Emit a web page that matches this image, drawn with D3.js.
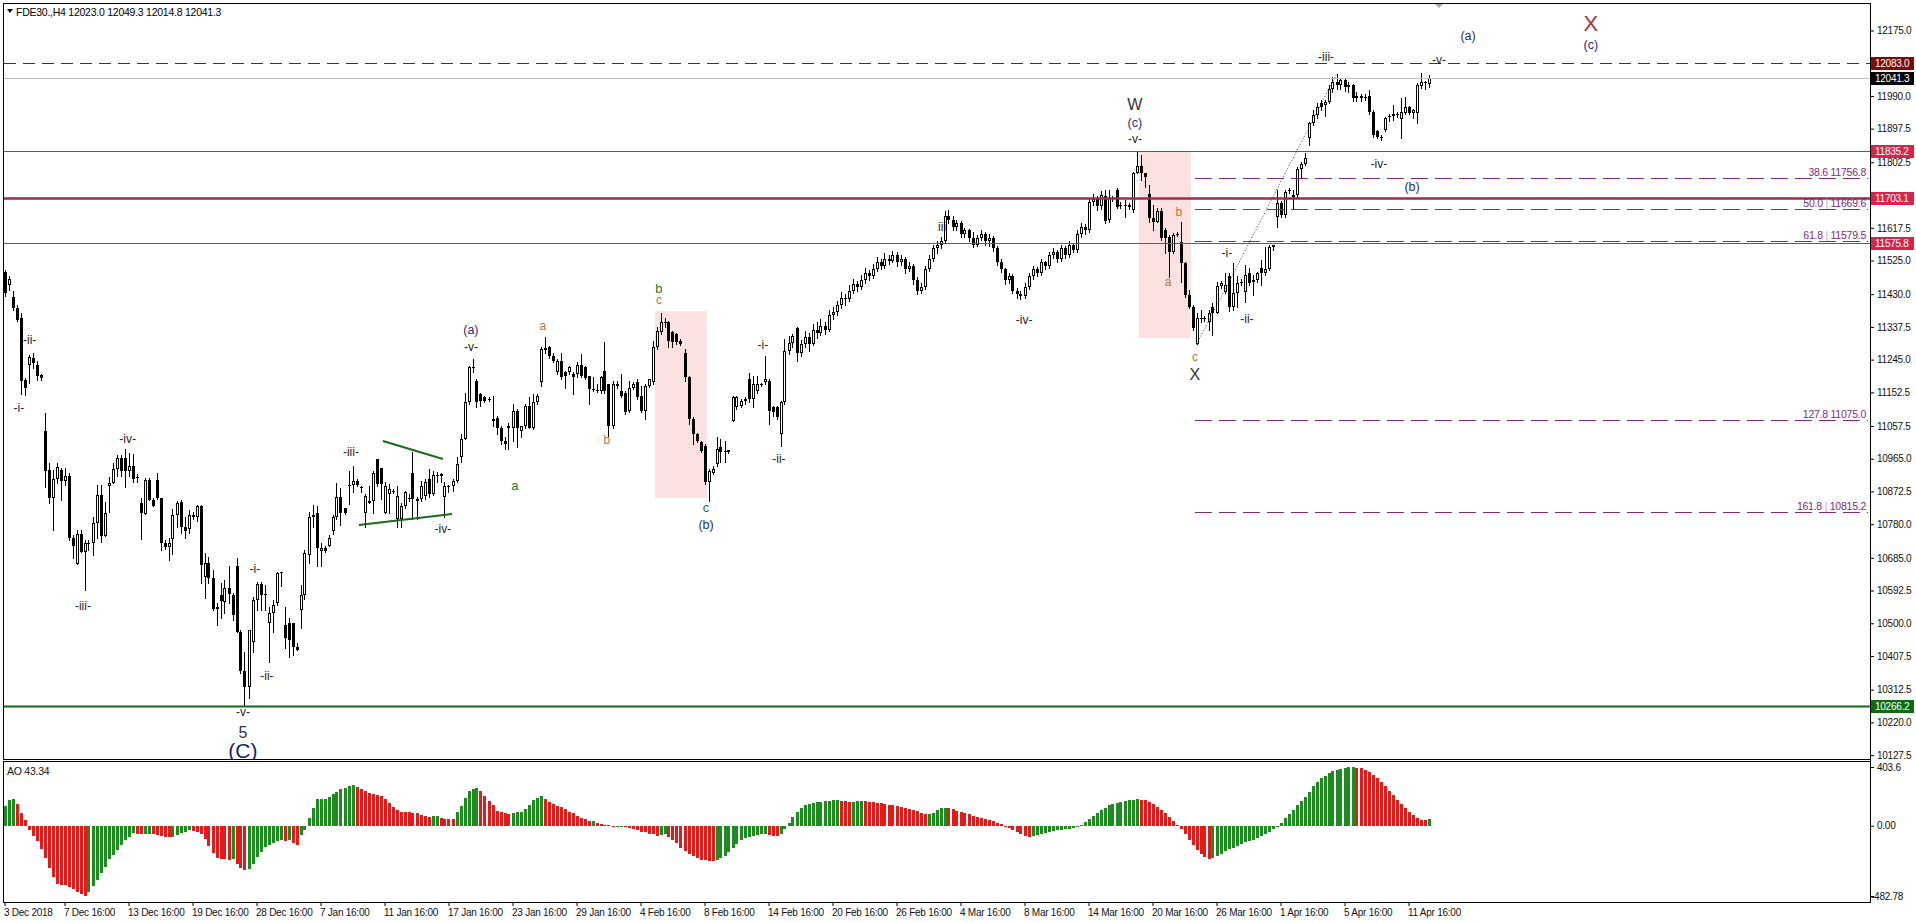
<!DOCTYPE html>
<html>
<head>
<meta charset="utf-8">
<script src="https://cdn.jsdelivr.net/npm/d3@7"></script>
<style>
body{margin:0;background:#fff}
svg{display:block}
text{font-family:'Liberation Sans',Arial,sans-serif}
.ax text,.tag,.small{letter-spacing:-0.25px}
</style>
</head>
<body>
<svg id="chart" width="1916" height="923"></svg>
<script>
// candles, one row per H4 bar: [open, high, low, close]
const ohlc = [
[11494,11498,11425,11433],[11456,11480,11442,11472],[11423,11440,11385,11390],[11390,11400,11355,11357],[11362,11378,11148,11186],
[11188,11192,11145,11164],[11230,11258,11178,11252],[11250,11265,11220,11235],[11230,11240,11188,11199],[11202,11204,11188,11192],
[11042,11093,10884,10929],[10933,10952,10839,10853],[10853,10933,10764,10907],[10907,10952,10896,10943],[10933,10938,10848,10903],
[10903,10938,10890,10915],[10915,10924,10735,10740],[10740,10750,10684,10717],[10668,10764,10668,10752],[10752,10764,10702,10702],
[10702,10735,10594,10726],[10726,10735,10707,10724],[10726,10801,10693,10784],[10784,10891,10740,10863],[10863,10891,10731,10747],
[10747,10844,10747,10813],[10888,10914,10815,10895],[10895,10952,10895,10935],[10935,10976,10915,10966],[10966,10976,10915,10930],
[10966,10992,10886,10931],[10931,10980,10915,10945],[10945,10978,10898,10907],[10912,10922,10898,10910],[10839,10853,10737,10811],
[10809,10910,10809,10905],[10905,10910,10847,10847],[10847,10853,10830,10832],[10905,10926,10850,10853],[10853,10853,10707,10726],
[10726,10735,10709,10716],[10716,10740,10679,10726],[10737,10822,10696,10806],[10806,10846,10773,10839],[10844,10848,10754,10771],
[10771,10801,10740,10762],[10766,10820,10754,10806],[10806,10815,10794,10801],[10801,10834,10790,10830],[10830,10834,10613,10665],
[10632,10698,10571,10670],[10670,10688,10613,10627],[10627,10651,10537,10540],[10545,10556,10495,10540],[10580,10613,10514,10564],
[10561,10622,10528,10599],[10599,10662,10556,10583],[10580,10585,10509,10524],[10662,10684,10476,10476],[10476,10481,10359,10366],
[10366,10420,10266,10319],[10319,10481,10288,10481],[10448,10575,10420,10566],[10566,10618,10538,10611],[10611,10618,10538,10580],
[10580,10608,10538,10582],[10500,10547,10392,10528],[10528,10566,10476,10552],[10556,10646,10552,10643],[10643,10646,10604,10645],
[10495,10547,10429,10457],[10500,10514,10404,10453],[10500,10500,10410,10434],[10434,10443,10424,10425],[10538,10608,10486,10580],
[10580,10707,10570,10698],[10693,10815,10670,10801],[10801,10834,10773,10806],[10813,10832,10663,10714],[10705,10728,10663,10714],
[10714,10719,10700,10705],[10719,10749,10719,10740],[10761,10806,10752,10799],[10799,10896,10794,10856],[10856,10881,10777,10813],
[10827,10827,10808,10813],[10888,10931,10837,10891],[10890,10945,10870,10903],[10903,10907,10888,10890],[10885,10888,10870,10884],
[10813,10865,10771,10860],[10846,10888,10841,10841],[10846,10931,10813,10926],[10964,10964,10889,10893],[10938,10940,10851,10893],
[10813,10898,10813,10889],[10865,10893,10813,10879],[10874,10879,10868,10875],[10794,10889,10771,10860],[10794,10841,10771,10832],
[10832,10874,10827,10870],[10855,10865,10846,10851],[10926,10983,10794,10851],[10851,10856,10794,10846],[10851,10903,10846,10889],
[10860,10907,10851,10898],[10907,10936,10856,10865],[10865,10931,10862,10919],[10917,10928,10898,10918],[10917,10926,10898,10922],
[10858,10898,10799,10889],[10889,10891,10870,10885],[10889,10907,10875,10903],[10903,10969,10898,10950],[10969,11035,10955,11020],
[11020,11152,11020,11124],[11124,11228,11119,11223],[11223,11247,11209,11225],[11185,11190,11110,11124],[11148,11152,11115,11129],
[11138,11143,11124,11129],[11133,11138,11129,11134],[11077,11143,11058,11072],[11079,11086,11035,11051],[11053,11058,11006,11016],
[11016,11025,10992,11006],[11053,11067,10992,11058],[11053,11119,11016,11101],[11101,11105,10997,11053],[11044,11058,11025,11058],
[11058,11119,11053,11115],[11115,11138,11053,11053],[11053,11148,11050,11124],[11124,11148,11119,11143],[11181,11280,11171,11275],
[11277,11308,11265,11273],[11280,11284,11251,11256],[11256,11265,11237,11242],[11211,11247,11204,11242],[11242,11265,11190,11195],
[11209,11214,11166,11200],[11209,11228,11204,11223],[11204,11209,11148,11196],[11204,11237,11195,11230],[11230,11261,11195,11200],
[11223,11228,11190,11192],[11200,11200,11119,11162],[11162,11195,11157,11163],[11160,11177,11154,11158],[11157,11200,11152,11195],
[11214,11296,11152,11157],[11176,11176,11030,11058],[11058,11185,11053,11176],[11176,11185,11166,11171],[11157,11204,11138,11143],
[11152,11157,11091,11096],[11101,11185,11096,11166],[11166,11181,11162,11176],[11181,11190,11133,11138],[11143,11171,11096,11101],
[11101,11176,11077,11171],[11171,11190,11167,11190],[11181,11298,11176,11280],[11280,11336,11275,11327],[11322,11378,11317,11350],
[11350,11364,11336,11351],[11350,11355,11280,11298],[11322,11327,11280,11294],[11317,11320,11290,11294],[11298,11302,11285,11289],
[11265,11275,11185,11195],[11195,11200,11063,11077],[11077,11082,11006,11035],[11035,11039,11011,11016],[11011,11016,10983,10988],
[11002,11006,10893,10898],[10898,10936,10846,10931],[10926,10945,10922,10936],[10950,11025,10945,10992],[10997,11020,10955,10983],
[10986,11016,10955,10983],[10985,10991,10982,10990],[11072,11143,11072,11138],[11110,11143,11105,11138],[11115,11133,11110,11129],
[11129,11138,11120,11134],[11190,11207,11124,11133],[11133,11199,11110,11176],[11157,11199,11152,11176],[11175,11180,11170,11176],
[11181,11256,11176,11190],[11185,11190,11063,11101],[11110,11115,11087,11096],[11110,11115,11077,11082],[11035,11129,11002,11124],
[11124,11303,11119,11270],[11270,11313,11260,11292],[11292,11317,11280,11313],[11333,11336,11242,11265],[11265,11300,11255,11290],
[11290,11325,11280,11310],[11310,11320,11270,11290],[11290,11345,11285,11330],[11330,11350,11305,11320],[11320,11360,11315,11340],
[11340,11352,11318,11330],[11330,11385,11325,11370],[11370,11395,11360,11380],[11380,11410,11372,11400],[11400,11435,11390,11420],
[11420,11430,11400,11415],[11415,11455,11410,11440],[11440,11472,11432,11460],[11460,11468,11438,11450],[11450,11485,11445,11470],
[11470,11505,11462,11490],[11490,11498,11470,11480],[11480,11515,11475,11500],[11500,11535,11495,11520],[11520,11528,11500,11510],
[11510,11545,11505,11530],[11530,11540,11515,11525],[11525,11552,11520,11540],[11540,11548,11510,11520],[11520,11540,11512,11530],
[11530,11535,11490,11500],[11500,11520,11495,11510],[11510,11515,11460,11470],[11470,11478,11430,11440],[11440,11462,11432,11450],
[11450,11510,11445,11500],[11500,11540,11495,11530],[11530,11570,11525,11560],[11560,11580,11545,11570],[11570,11592,11560,11580],
[11580,11665,11575,11650],[11650,11668,11630,11640],[11640,11650,11612,11620],[11620,11640,11610,11630],[11630,11638,11592,11600],
[11600,11618,11592,11610],[11610,11615,11580,11590],[11590,11605,11562,11570],[11570,11598,11565,11590],[11590,11612,11582,11600],
[11600,11605,11570,11580],[11580,11600,11565,11590],[11590,11595,11552,11560],[11560,11565,11512,11520],[11520,11528,11492,11500],
[11500,11505,11460,11470],[11470,11490,11462,11480],[11480,11486,11432,11440],[11440,11448,11420,11430],[11430,11438,11416,11425],
[11425,11462,11420,11450],[11450,11490,11445,11480],[11480,11510,11472,11500],[11500,11506,11482,11490],[11490,11530,11485,11520],
[11520,11525,11500,11510],[11510,11548,11505,11540],[11540,11560,11532,11550],[11550,11555,11522,11530],[11530,11570,11525,11560],
[11560,11566,11532,11540],[11540,11580,11535,11570],[11570,11575,11548,11555],[11555,11610,11550,11600],[11600,11630,11592,11620],
[11620,11628,11600,11610],[11610,11700,11605,11690],[11690,11712,11682,11700],[11700,11706,11668,11680],[11680,11722,11672,11710],
[11707,11724,11630,11638],[11640,11724,11635,11701],[11701,11708,11694,11702],[11724,11729,11673,11677],[11682,11690,11673,11683],
[11682,11696,11649,11683],[11683,11688,11670,11676],[11668,11776,11663,11773],[11773,11835,11771,11792],[11792,11823,11753,11771],
[11771,11773,11733,11760],[11713,11739,11635,11644],[11644,11682,11611,11635],[11635,11673,11635,11666],[11666,11673,11583,11588],
[11611,11616,11545,11588],[11592,11597,11479,11550],[11550,11602,11545,11597],[11600,11607,11593,11601],[11578,11635,11465,11517],
[11517,11522,11423,11428],[11428,11442,11390,11395],[11395,11399,11329,11334],[11290,11376,11287.8,11362],[11362,11385,11350,11363],
[11362,11368,11355,11360],[11352,11385,11330,11378],[11395,11404,11315,11378],[11378,11463,11376,11453],[11453,11466,11447,11462],
[11437,11489,11433,11456],[11481,11489,11381,11395],[11395,11517,11385,11432],[11432,11480,11395,11462],[11462,11472,11455,11463],
[11437,11512,11409,11484],[11489,11503,11455,11461],[11463,11484,11428,11470],[11470,11494,11465,11489],[11503,11526,11456,11491],
[11491,11564,11484,11500],[11500,11569,11498,11564],[11564,11570,11555,11570],[11649,11724,11621,11687],[11687,11692,11649,11654],
[11654,11724,11649,11720],[11722,11730,11716,11724],[11704,11724,11670,11710],[11710,11790,11705,11783],[11783,11804,11757,11798],
[11798,11830,11795,11814],[11870,11917,11852,11913],[11913,11950,11908,11936],[11936,11969,11927,11960],[11969,11979,11950,11960],
[11965,11979,11932,11974],[11974,12020,11970,12010],[12010,12045,12000,12030],[12030,12051.4,12010,12020],[12020,12040,12010,12035],
[12035,12040,12005,12015],[12015,12030,12000,12020],[12020,12025,11975,11985],[11985,12000,11975,11990],[11990,11995,11975,11985],
[11985,11995,11978,11988],[11990,12007,11940,11945],[11945,11950,11875,11880],[11890,11895,11870,11875],[11875,11880,11866,11872],
[11894,11930,11890,11927],[11930,11940,11918,11932],[11932,11965,11922,11940],[11940,11945,11930,11937],[11925,11985,11870,11944],
[11941,11988,11938,11960],[11960,11962,11938,11941],[11941,11952,11928,11950],[11941,12026,11913,12021],[12018,12056,12012,12030],
[12030,12033,12010,12026],[12023.0,12049.3,12014.8,12041.3]
];

// Awesome Oscillator, one value per bar
const ao = [
139,176,187,146,88,37,-28,-69,-102,-162,
-219,-293,-351,-397,-404,-409,-420,-432,-455,-470,
-482.78,-455,-416,-374,-328,-282,-229,-201,-166,-132,
-97,-74,-51,-58,-60,-58,-57,-60,-66,-72,
-78,-80,-76,-62,-50,-40,-32,-36,-45,-60,
-90,-140,-190,-225,-229,-230,-232,-226,-260,-290,
-305,-295,-260,-215,-178,-148,-132,-120,-102,-97,
-108,-98,-120,-132,-62,-32,52,122,185,186,
187,198,215,231,249,261,270,277,268,250,
238,226,219,210,201,185,157,129,111,93,
92,91,90,85,74,65,58,65,66,55,
48,46,45,92,134,190,236,255,256,238,
203,173,143,99,92,88,81,88,92,95,
115,145,175,192,203,185,166,148,138,129,
115,97,85,70,55,45,32,35,22,12,
8,2,-8,-5,-4,-12,-15,-20,-28,-40,
-45,-55,-60,-70,-65,-60,-75,-95,-120,-150,
-175,-195,-210,-225,-232,-236,-240,-242,-238,-225,
-205,-180,-150,-125,-100,-85,-75,-70,-62,-60,
-58,-62,-70,-72,-55,-20,20,60,95,120,
140,150,158,162,165,168,170,175,176,172,
168,165,166,170,172,168,164,160,158,155,
150,145,140,138,132,125,118,110,100,88,
80,82,90,108,122,125,120,112,102,95,
86,78,70,60,52,45,40,30,20,12,
0,-15,-30,-45,-60,-70,-75,-72,-65,-55,
-48,-40,-35,-30,-28,-25,-22,-15,-5,8,
25,45,65,90,110,125,140,150,158,165,
170,176,180,184,180,175,165,150,130,110,
85,60,30,5,-25,-60,-95,-130,-165,-195,
-215,-228,-225,-210,-195,-175,-160,-150,-140,-128,
-115,-105,-95,-85,-72,-58,-42,-25,-5,20,
50,80,110,140,170,200,235,270,300,325,
345,362,375,385,393,398,401,403.6,400,395,
385,370,352,330,300,270,240,210,180,150,
120,95,72,55,42,38,43.34
];

const priceTicks = [12175.0,11990.0,11897.5,11802.5,11617.5,11525.0,11430.0,11337.5,11245.0,11152.5,
  11057.5,10965.0,10872.5,10780.0,10685.0,10592.5,10500.0,10407.5,10312.5,10220.0,10127.5];
const aoTicks = [403.6, 0, -482.78];
const aoTickLabels = ["403.6", "0.00", "-482.78"];

const dateIdx = [0,15,31,47,63,79,95,111,127,143,159,175,191,207,223,239,255,271,287,303,319,335,351];
const dateLabels = ["3 Dec 2018","7 Dec 16:00","13 Dec 16:00","19 Dec 16:00","28 Dec 16:00","7 Jan 16:00",
  "11 Jan 16:00","17 Jan 16:00","23 Jan 16:00","29 Jan 16:00","4 Feb 16:00","8 Feb 16:00","14 Feb 16:00",
  "20 Feb 16:00","26 Feb 16:00","4 Mar 16:00","8 Mar 16:00","14 Mar 16:00","20 Mar 16:00","26 Mar 16:00",
  "1 Apr 16:00","5 Apr 16:00","11 Apr 16:00"];

// horizontal levels
const levels = [12083.0, 12041.3, 11835.2, 11703.1, 11575.8, 10266.2];

// fibonacci from X low to -iii- high
const fibStart = 297.6;
const fibPct = ["38.6","50.0","61.8","127.8","161.8"];
const fibVal = [11756.8, 11669.6, 11579.5, 11075.0, 10815.2];
const trendFrom = [298, 11287.8];
const trendTo = [333, 12051.4];

// shaded zones [fromBar, toBar, topPrice, bottomPrice]
const zones = [[162.6,175.6,11382,10854],[283.6,296.6,11835.2,11306]];

// triangle boundaries [bar, price, bar, price]
const triLines = [[94.6,11015,109.6,10964],[88.6,10778,111.9,10809]];

// wave marks [text, bar, price, degree]
const waves = [
["-ii-",6.3,11300,"sub"],["-i-",3.6,11108,"sub"],["-iv-",30.8,11021,"sub"],["-iii-",19.6,10549,"sub"],
["-i-",62.6,10653,"sub"],["-ii-",65.6,10351,"sub"],["-v-",59.6,10248,"sub"],["5",59.6,10190,"five"],["(C)",59.6,10140,"bigC"],
["-iii-",86.6,10984,"sub"],["-iv-",109.6,10766,"sub"],["(a)",116.6,11329,"int"],["-v-",116.6,11281,"sub"],
["a",134.6,11340,"ora"],["a",127.6,10888,"grn"],["b",150.6,11018,"ora"],["b",163.6,11447,"grn"],["c",163.6,11414,"ora"],
["c",175.4,10826,"grn"],["(b)",175.4,10778,"int"],["-i-",189.6,11286,"sub"],["-ii-",193.6,10964,"sub"],
["iii",234.4,11620,"sub"],["-iv-",254.9,11357,"sub"],
["W",282.6,11965,"prim"],["(c)",282.6,11914,"int"],["-v-",282.6,11868,"sub"],
["b",293.6,11662,"ora"],["a",290.9,11464,"ora"],["c",297.6,11252,"ora"],["X",297.6,11202,"prim"],
["-i-",305.6,11546,"sub"],["-ii-",310.6,11360,"sub"],["-iii-",330.4,12100,"sub"],["-iv-",343.6,11798,"sub"],
["(b)",351.9,11733,"int"],["-v-",358.6,12092,"sub"],["(a)",365.9,12160,"int"],["X",396.6,12196,"redX"],["(c)",396.6,12134,"int"]
];

const W = 1916, H = 923;
const right = 1870, mainTop = 3, mainBot = 759, aoTop = 761, aoBot = 902;

const x = d3.scaleLinear().domain([0, ohlc.length - 1]).range([4.5, 1428.5]);
const y = d3.scaleLinear().domain([10116.5, 12252.7]).range([mainBot, mainTop]);
const yAO = d3.scaleLinear().domain([-482.78, 403.6]).range([896, 767]);

const svg = d3.select("#chart");
svg.append("rect").attr("width", W).attr("height", H).attr("fill", "#fff");

const defs = svg.append("defs");
defs.append("clipPath").attr("id", "clipMain").append("rect")
  .attr("x", 4).attr("y", mainTop + 1).attr("width", right - 4).attr("height", mainBot - mainTop - 1);
defs.append("clipPath").attr("id", "clipAO").append("rect")
  .attr("x", 4).attr("y", aoTop + 1).attr("width", right - 4).attr("height", aoBot - aoTop - 1);

const main = svg.append("g").attr("clip-path", "url(#clipMain)");

// pink zones
main.selectAll("rect.zone").data(zones).join("rect").attr("class", "zone")
  .attr("x", d => x(d[0])).attr("width", d => x(d[1]) - x(d[0]))
  .attr("y", d => y(d[2])).attr("height", d => y(d[3]) - y(d[2]))
  .attr("fill", "#fce1e1");

// candles
const cg = main.append("g").attr("shape-rendering", "crispEdges");
cg.selectAll("g").data(ohlc).join("g").each(function(d, i) {
  const g = d3.select(this);
  const [o, h, l, c] = d;
  const cx = Math.round(x(i));
  g.append("line").attr("x1", cx + 0.5).attr("x2", cx + 0.5)
    .attr("y1", Math.round(y(h))).attr("y2", Math.round(y(l)) + 1).attr("stroke", "#000");
  const top = Math.round(y(Math.max(o, c))), bot = Math.round(y(Math.min(o, c)));
  if (bot - top < 2) {
    g.append("rect").attr("x", cx - 1).attr("y", top).attr("width", 3).attr("height", Math.max(1, bot - top)).attr("fill", "#000");
  } else if (c > o) {
    g.append("rect").attr("x", cx - 0.5).attr("y", top + 0.5).attr("width", 2).attr("height", bot - top - 1)
      .attr("fill", "#fff").attr("stroke", "#000");
  } else {
    g.append("rect").attr("x", cx - 1).attr("y", top).attr("width", 3).attr("height", bot - top).attr("fill", "#000");
  }
});

// horizontal lines
const lvlStroke = ["#7a1a1a", "#c0c0c0", "#a23a62", "#a3294a", "#a23a62", "#13691a"];
const lvlWidth = [1, 1, 1, 2.5, 1, 2];
const lvlDash = ["12,7", null, null, null, null, null];
main.selectAll("line.lvl").data(levels).join("line").attr("class", "lvl")
  .attr("x1", 4).attr("x2", right)
  .attr("y1", d => Math.round(y(d)) + 0.5).attr("y2", d => Math.round(y(d)) + 0.5)
  .attr("stroke", (d, i) => lvlStroke[i]).attr("stroke-width", (d, i) => lvlWidth[i])
  .attr("stroke-dasharray", (d, i) => lvlDash[i]);

// fibonacci lines
main.selectAll("line.fib").data(fibVal).join("line").attr("class", "fib")
  .attr("x1", x(fibStart)).attr("x2", right - 2)
  .attr("y1", d => Math.round(y(d)) + 0.5).attr("y2", d => Math.round(y(d)) + 0.5)
  .attr("stroke", "#7e2a7e").attr("stroke-dasharray", "17,7");
const fibText = main.selectAll("text.fib").data(fibVal).join("text").attr("class", "fib small")
  .attr("x", right - 4).attr("y", d => y(d) - 2)
  .attr("text-anchor", "end").attr("font-size", 10.5).attr("fill", "#7e2a7e");
fibText.append("tspan").text((d, i) => fibPct[i]);
fibText.append("tspan").attr("fill", "#caa6ca").text((d, i) => (i === 0 || i === 3) ? " " : " | ");
fibText.append("tspan").text(d => d.toFixed(1));

// trend line (dotted)
main.append("line")
  .attr("x1", x(trendFrom[0])).attr("y1", y(trendFrom[1]))
  .attr("x2", x(trendTo[0])).attr("y2", y(trendTo[1]))
  .attr("stroke", "#333").attr("stroke-dasharray", "1,2");

// triangle
main.selectAll("line.tri").data(triLines).join("line").attr("class", "tri")
  .attr("x1", d => x(d[0])).attr("y1", d => y(d[1]))
  .attr("x2", d => x(d[2])).attr("y2", d => y(d[3]))
  .attr("stroke", "#1d6b1d").attr("stroke-width", 2);

// wave labels
const waveStyle = {
  sub: {fill: "#1e1e1e", size: 12},
  int: {fill: "#2a2a72", size: 12.5},
  prim: {fill: "#333", size: 16},
  ora: {fill: "#b8763c", size: 12},
  grn: {fill: "#1d7a1d", size: 13},
  redX: {fill: "#a83232", size: 22},
  five: {fill: "#333", size: 16},
  bigC: {fill: "#22226a", size: 21}
};
main.selectAll("text.wave").data(waves).join("text").attr("class", "wave")
  .attr("x", d => x(d[1])).attr("y", d => y(d[2]))
  .attr("text-anchor", "middle").attr("dominant-baseline", "central")
  .attr("font-size", d => waveStyle[d[3]].size).attr("fill", d => waveStyle[d[3]].fill)
  .text(d => d[0]);

// shift marker
svg.append("path").attr("d", "M1434,3L1444,3L1439,8Z").attr("fill", "#a8a8a8");

// AO histogram
const aog = svg.append("g").attr("clip-path", "url(#clipAO)").attr("shape-rendering", "crispEdges");
aog.selectAll("rect").data(ao).join("rect")
  .attr("x", (d, i) => Math.round(x(i)) - 1).attr("width", 3)
  .attr("y", d => Math.round(yAO(Math.max(0, d))))
  .attr("height", d => Math.max(1, Math.abs(Math.round(yAO(d)) - Math.round(yAO(0)))))
  .attr("fill", (d, i) => (i === 0 || d > ao[i - 1]) ? "#1f8a1f" : "#e31a1a");

// panel frames
const frame = svg.append("g").attr("fill", "none").attr("stroke", "#000").attr("shape-rendering", "crispEdges");
frame.append("rect").attr("x", 3.5).attr("y", mainTop + 0.5).attr("width", right - 3).attr("height", mainBot - mainTop);
frame.append("rect").attr("x", 3.5).attr("y", aoTop + 0.5).attr("width", right - 3).attr("height", aoBot - aoTop);

// price axis
const yAxis = d3.axisRight(y).tickValues(priceTicks).tickFormat(d3.format(".1f")).tickSize(4).tickSizeOuter(0);
svg.append("g").attr("class", "ax").attr("transform", `translate(${right},0)`).call(yAxis)
  .call(g => g.select(".domain").remove())
  .call(g => g.selectAll("text").attr("font-size", 10).attr("font-family", null).attr("fill", "#111"));

// price tags
const tagFill = ["#7c0b0b", "#000", "#d5264a", "#d5264a", "#d5264a", "#0e6b12"];
const tags = svg.append("g");
tags.selectAll("rect").data(levels).join("rect")
  .attr("x", right + 1).attr("width", 43).attr("y", d => Math.round(y(d)) - 6).attr("height", 13)
  .attr("fill", (d, i) => tagFill[i]);
tags.selectAll("text").data(levels).join("text").attr("class", "tag")
  .attr("x", right + 5).attr("y", d => Math.round(y(d)) + 0.5).attr("dominant-baseline", "central")
  .attr("font-size", 10).attr("fill", "#fff").text(d => d.toFixed(1));

// AO axis
const aoAxis = d3.axisRight(yAO).tickValues(aoTicks).tickFormat((d, i) => aoTickLabels[i]).tickSize(4).tickSizeOuter(0);
svg.append("g").attr("class", "ax").attr("transform", `translate(${right},0)`).call(aoAxis)
  .call(g => g.select(".domain").remove())
  .call(g => g.selectAll("text").attr("font-size", 10).attr("font-family", null).attr("fill", "#111"))
  .call(g => g.selectAll(".tick").filter((d, i) => i === 2).select("text").attr("x", 1));

// axis vertical line
svg.append("line").attr("x1", right + 0.5).attr("x2", right + 0.5).attr("y1", mainTop).attr("y2", aoBot + 1)
  .attr("stroke", "#000");

// date axis
const xAxis = d3.axisBottom(x).tickValues(dateIdx).tickFormat((d, i) => dateLabels[i]).tickSize(4).tickSizeOuter(0);
svg.append("g").attr("class", "ax").attr("transform", `translate(0,${aoBot})`).call(xAxis)
  .call(g => g.select(".domain").remove())
  .call(g => g.selectAll("text").attr("text-anchor", "start").attr("x", -1)
    .attr("font-size", 10).attr("font-family", null).attr("fill", "#111"));

// header and indicator caption
const last = ohlc[ohlc.length - 1];
svg.append("path").attr("d", "M7,9L13,9L10,13Z").attr("fill", "#000");
svg.append("text").attr("class", "small").attr("x", 16).attr("y", 11.5).attr("dominant-baseline", "central")
  .attr("font-size", 10.5).attr("fill", "#000")
  .text(`FDE30.,H4  ${last.map(v => v.toFixed(1)).join(" ")}`);
svg.append("text").attr("class", "small").attr("x", 7).attr("y", 771).attr("dominant-baseline", "central")
  .attr("font-size", 10.5).attr("fill", "#111")
  .text(`AO ${ao[ao.length - 1]}`);
</script>
</body>
</html>
